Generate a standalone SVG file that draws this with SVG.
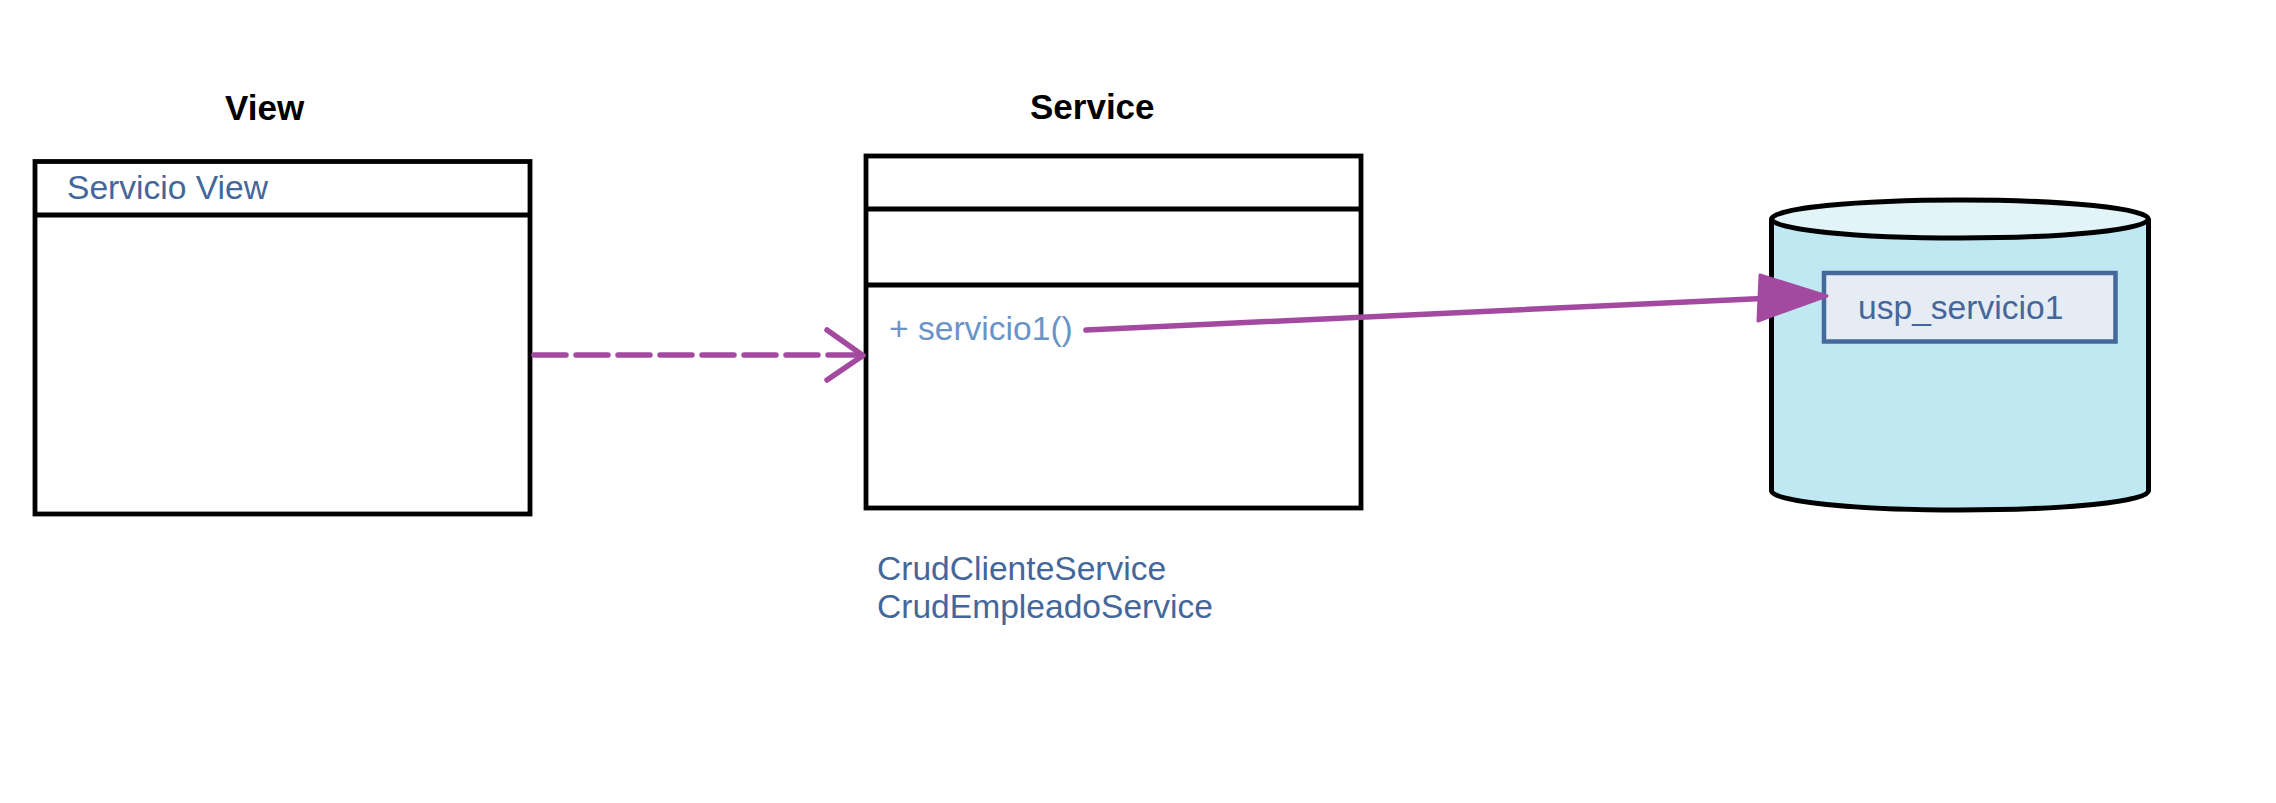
<svg xmlns="http://www.w3.org/2000/svg" width="2276" height="803" viewBox="0 0 2276 803">
<style>
.box{fill:#fff;stroke:#000;stroke-width:4.8}
.div{stroke:#000;stroke-width:4.8}
.title{font-family:"Liberation Sans",Arial,sans-serif;font-weight:bold;font-size:35px;fill:#000}
.lbl{font-family:"Liberation Sans",Arial,sans-serif;font-size:33.6px;fill:#44679b}
.op{font-family:"Liberation Sans",Arial,sans-serif;font-size:33.6px;fill:#6b93c6}
.conn{fill:none;stroke:#a34aa0;stroke-width:5.5;stroke-linecap:round;stroke-linejoin:round}
</style>
<rect width="2276" height="803" fill="#fff"/>
<g id="view">
<text class="title" x="225" y="120">View</text>
<rect class="box" x="35" y="161.5" width="495" height="352.5"/>
<line class="div" x1="35" y1="215" x2="530" y2="215"/>
<text class="lbl" x="67" y="199">Servicio View</text>
</g>
<g id="service">
<text class="title" x="1030" y="119">Service</text>
<rect class="box" x="866" y="156" width="495" height="352"/>
<line class="div" x1="866" y1="209" x2="1361" y2="209"/>
<line class="div" x1="866" y1="285" x2="1361" y2="285"/>
<text class="op" x="889" y="340">+ servicio1()</text>
<text class="lbl" x="877" y="580">CrudClienteService</text>
<text class="lbl" x="877" y="618">CrudEmpleadoService</text>
</g>
<g id="database">
<path d="M1771.5,219 L1771.5,491 A188.5,19 0 0 0 2148.5,491 L2148.5,219" fill="#c0e8f2" stroke="#000" stroke-width="5"/>
<ellipse cx="1960" cy="219" rx="188.5" ry="19" fill="#e2f4f8" stroke="#000" stroke-width="5"/>
<rect x="1824" y="273" width="291.5" height="68.5" fill="#e6ecf3" stroke="#45699b" stroke-width="4.5"/>
<text class="lbl" x="1858" y="319">usp_servicio1</text>
</g>
<g id="connectors">
<line class="conn" x1="534" y1="355" x2="862" y2="355" stroke-dasharray="32 10" stroke-linecap="butt"/>
<polyline class="conn" points="827,330 863,355.5 827,380"/>
<line class="conn" x1="1086" y1="330" x2="1762" y2="298.5"/>
<polygon points="1760,275 1827,296 1758,321" fill="#a34aa0" stroke="#a34aa0" stroke-width="3" stroke-linejoin="round"/>
</g>
</svg>
